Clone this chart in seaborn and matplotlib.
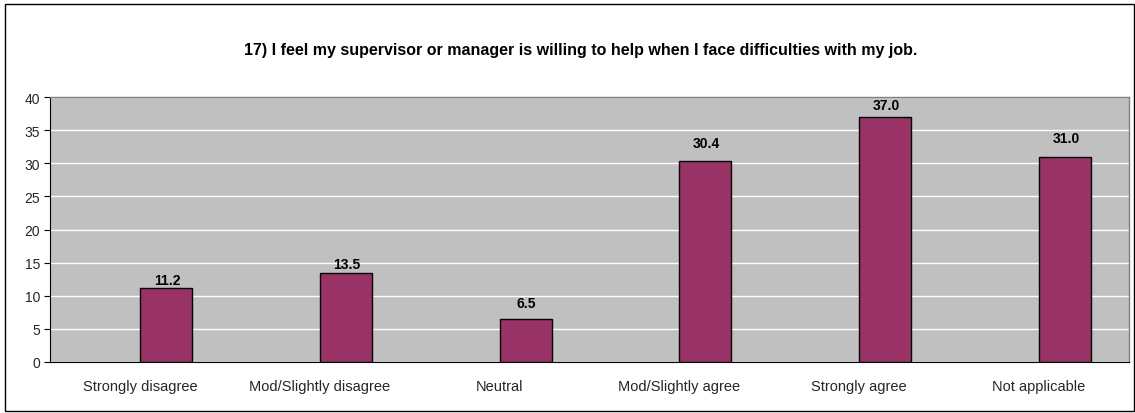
import matplotlib
matplotlib.use("Agg")
import matplotlib.pyplot as plt
import seaborn as sns
import pandas as pd
from matplotlib.patches import Rectangle

categories = ["Strongly disagree", "Mod/Slightly disagree", "Neutral",
              "Mod/Slightly agree", "Strongly agree", "Not applicable"]
values = [11.2, 13.5, 6.5, 30.4, 37.0, 31.0]
yticks = [0, 5, 10, 15, 20, 25, 30, 35, 40]
title = "17) I feel my supervisor or manager is willing to help when I face difficulties with my job."

# styling: gap (pixels) between bar top and its value label, as in the original
label_gap_px = [4, 5, 12, 14, 8, 15]

sns.set_theme(style="white")
plt.rcParams['font.family'] = ['Liberation Sans', 'DejaVu Sans']

W, H = 1135, 414
fig = plt.figure(figsize=(W / 100, H / 100), dpi=100)
fig.patch.set_facecolor("white")
fig.patches.append(Rectangle((5 / W, 1 - 412 / H), (1134 - 5) / W, (412 - 5) / H,
                             transform=fig.transFigure, fill=False,
                             edgecolor="black", linewidth=1.0))

left, right, top, bottom = 50, 1129, 98, 363
ax = fig.add_axes([left / W, 1 - bottom / H, (right - left) / W, (bottom - top) / H])
ax.set_facecolor("#C0C0C0")

df = pd.DataFrame({"cat": categories, "val": values})
bw = 0.289
sns.barplot(data=df, x="cat", y="val", order=categories, color="#993366",
            width=bw, edgecolor="black", linewidth=1.0, saturation=1, ax=ax, zorder=3)
for p in ax.patches:
    p.set_x(p.get_x() + bw / 2)

for i, v in enumerate(values):
    ax.annotate(f"{v:.1f}", (i + bw / 2, v), xytext=(1, label_gap_px[i]),
                textcoords="offset pixels",
                ha="center", va="baseline", fontsize=10, fontweight="bold", color="black")

ax.set_xlim(-0.5, len(categories) - 0.5)
ax.set_ylim(0, 40)
ax.set_yticks(yticks)
ax.set_yticklabels([str(t) for t in yticks], fontsize=10)
ax.yaxis.grid(True, color="white", linewidth=1.0, zorder=0)
ax.set_axisbelow(True)
ax.set_xlabel("")
ax.set_ylabel("")

ax.set_xticks(range(len(categories)))
ax.set_xticklabels(categories, fontsize=10.5)
ax.tick_params(axis="x", length=0, pad=12)
ax.set_xticks([i + 0.5 for i in range(-1, len(categories))], minor=True)
ax.tick_params(axis="x", which="minor", length=4, direction="out", color="black", width=0.8)
ax.tick_params(axis="y", length=4, direction="out", color="black", width=0.8, pad=3, left=True)

for s in ["top", "right"]:
    ax.spines[s].set_color("#808080")
    ax.spines[s].set_linewidth(1.0)
for s in ["left", "bottom"]:
    ax.spines[s].set_color("black")
    ax.spines[s].set_linewidth(0.8)

fig.text(581 / W, 1 - 50 / H, title, ha="center", va="center", fontsize=11.5,
         fontweight="bold", color="black")

fig.savefig("out.png", dpi=100)
